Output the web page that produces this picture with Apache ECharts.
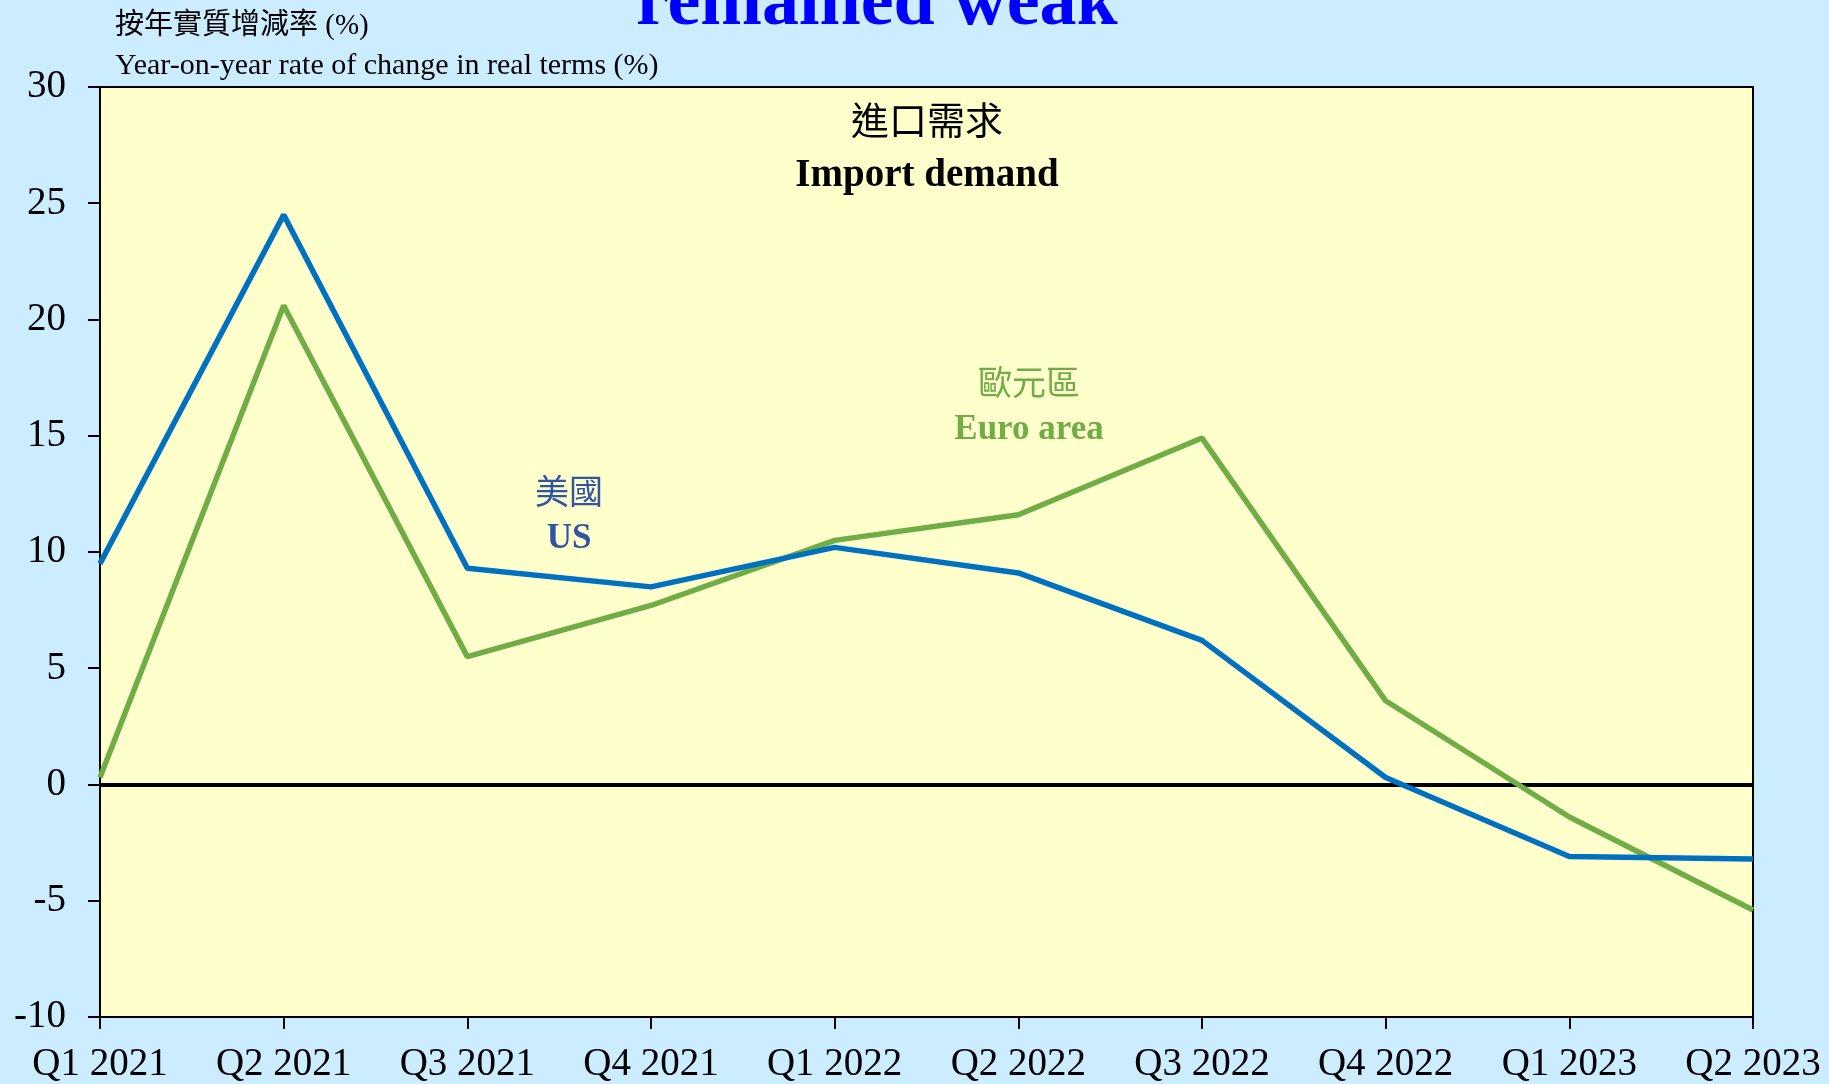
<!DOCTYPE html>
<html>
<head>
<meta charset="utf-8">
<script src="https://cdn.jsdelivr.net/npm/echarts@6/dist/echarts.min.js"></script>
<style>
  html, body { margin: 0; padding: 0; background: #CCECFF; }
  #chart { width: 1829px; height: 1084px; }
</style>
</head>
<body>
<div id="chart"></div>
<script>
var quarters = ['Q1 2021', 'Q2 2021', 'Q3 2021', 'Q4 2021', 'Q1 2022', 'Q2 2022', 'Q3 2022', 'Q4 2022', 'Q1 2023', 'Q2 2023'];
var usData = [9.5, 24.5, 9.3, 8.5, 10.2, 9.1, 6.2, 0.3, -3.1, -3.2];
var euroData = [0.3, 20.6, 5.5, 7.7, 10.5, 11.6, 14.9, 3.6, -1.4, -5.4];
var yTicks = [-10, -5, 0, 5, 10, 15, 20, 25, 30];

var serif = '"Liberation Serif", "Times New Roman", "Noto Sans CJK TC", serif';
var cjk = '"Liberation Serif", "Noto Sans CJK TC", serif';

var chart = echarts.init(document.getElementById('chart'));

var option = {
  backgroundColor: '#CCECFF',
  animation: false,
  grid: {
    left: 100,
    right: 76,
    top: 87,
    bottom: 64,
    show: true,
    backgroundColor: '#FFFFCC',
    borderColor: '#000',
    borderWidth: 2
  },
  xAxis: {
    type: 'category',
    data: quarters,
    boundaryGap: false,
    axisLine: { onZero: false, lineStyle: { color: '#000', width: 2 } },
    axisTick: { show: true, length: 12, lineStyle: { color: '#000', width: 2 } },
    axisLabel: {
      fontFamily: serif,
      fontSize: 39,
      color: '#000',
      margin: 28,
      interval: 0,
      showMaxLabel: true,
      showMinLabel: true
    },
    splitLine: { show: false }
  },
  yAxis: {
    type: 'value',
    min: yTicks[0],
    max: yTicks[yTicks.length - 1],
    interval: 5,
    axisLine: { show: true, lineStyle: { color: '#000', width: 2 } },
    axisTick: { show: true, length: 12, lineStyle: { color: '#000', width: 2 } },
    axisLabel: {
      fontFamily: serif,
      fontSize: 39,
      color: '#000',
      margin: 34
    },
    splitLine: { show: false }
  },
  series: [
    {
      name: 'Euro area',
      type: 'line',
      data: euroData,
      symbol: 'none',
      lineStyle: { color: '#70AD47', width: 5.5 },
      z: 3
    },
    {
      name: 'US',
      type: 'line',
      data: usData,
      symbol: 'none',
      lineStyle: { color: '#0070C0', width: 5.5 },
      z: 4,
      markLine: {
        silent: true,
        symbol: 'none',
        label: { show: false },
        lineStyle: { color: '#000', width: 4, type: 'solid' },
        data: [{ yAxis: 0 }],
        z: 2
      }
    }
  ],
  graphic: [
    {
      type: 'text', left: 636, top: -32,
      style: { text: 'remained weak', font: 'bold 74px ' + serif, fill: '#0000FF' }
    },
    {
      type: 'text', left: 115, top: 12,
      style: { text: '按年實質增減率 (%)', font: '29px ' + cjk, fill: '#000' }
    },
    {
      type: 'text', left: 115, top: 51,
      style: { text: 'Year-on-year rate of change in real terms (%)', font: '30px ' + serif, fill: '#000' }
    },
    {
      type: 'text', x: 927, y: 124,
      style: { text: '進口需求', font: '38px ' + cjk, fill: '#000', align: 'center', verticalAlign: 'middle' }
    },
    {
      type: 'text', x: 927, y: 176,
      style: { text: 'Import demand', font: 'bold 39px ' + serif, fill: '#000', align: 'center', verticalAlign: 'middle' }
    },
    {
      type: 'text', x: 569, y: 495,
      style: { text: '美國', font: '34px ' + cjk, fill: '#2F55A4', align: 'center', verticalAlign: 'middle' }
    },
    {
      type: 'text', x: 569, y: 539,
      style: { text: 'US', font: 'bold 35px ' + serif, fill: '#2F55A4', align: 'center', verticalAlign: 'middle' }
    },
    {
      type: 'text', x: 1029, y: 386,
      style: { text: '歐元區', font: '34px ' + cjk, fill: '#70AD47', align: 'center', verticalAlign: 'middle' }
    },
    {
      type: 'text', x: 1029, y: 430,
      style: { text: 'Euro area', font: 'bold 35px ' + serif, fill: '#70AD47', align: 'center', verticalAlign: 'middle' }
    }
  ]
};

chart.setOption(option);
</script>
</body>
</html>
